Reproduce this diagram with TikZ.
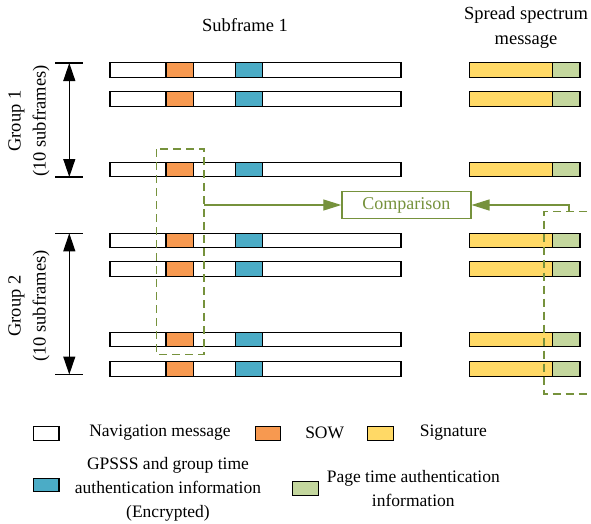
\documentclass[tikz,border=0pt]{standalone}
\usepackage{fontspec}
\setmainfont{Liberation Serif}
\usetikzlibrary{arrows.meta}
\definecolor{sowfill}{RGB}{247,153,80}
\definecolor{gpsfill}{RGB}{75,172,198}
\definecolor{sigfill}{RGB}{255,217,102}
\definecolor{pagefill}{RGB}{196,215,158}
\definecolor{olive}{RGB}{118,146,60}
\begin{document}
\begin{tikzpicture}[x=1pt,y=-1pt,
  seg/.style={draw=black,line width=1.1pt},
  lbl/.style={font=\fontsize{17.5}{24}\selectfont, align=center, inner sep=0pt},
  head/.style={font=\fontsize{18.5}{25}\selectfont, align=center, inner sep=0pt},
  span/.style={line width=1.1pt,
    {Triangle[length=18pt,width=12pt]}-{Triangle[length=18pt,width=12pt]}},
  tick/.style={line width=1.1pt},
  cmpline/.style={draw=olive, line width=1.2pt, -{Triangle[length=18pt,width=11pt]}},
  window/.style={draw=olive, line width=1.2pt, dash pattern=on 8pt off 5pt},
  key/.style={seg, minimum width=25.5pt, minimum height=13.5pt, inner sep=0pt}
]
\useasboundingbox (0,0) rectangle (591,523);

% column headings
\node[head] (hsub) at (245,25) {Subframe 1};
\node[head] (hspr) at (526,27.5) {Spread spectrum\\message};

% subframes: navigation message with SOW and GPSSS fields, plus spread spectrum message
\foreach \y in {70,99,169.5,240.5,269,339.5,369} {
  \draw[seg,fill=white]    (110,\y-7.2)   rectangle (401,\y+7.2);
  \draw[seg,fill=sowfill]  (166,\y-7.2)   rectangle (193.3,\y+7.2);
  \draw[seg,fill=gpsfill]  (235.3,\y-7.2) rectangle (262.7,\y+7.2);
  \draw[seg,fill=sigfill]  (469.3,\y-7.2) rectangle (552.3,\y+7.2);
  \draw[seg,fill=pagefill] (552.3,\y-7.2) rectangle (580,\y+7.2);
}

% group extents
\coordinate (g1top) at (69.3,63);
\coordinate (g1bot) at (69.3,177);
\coordinate (g2top) at (69.3,233.3);
\coordinate (g2bot) at (69.3,374.5);
\foreach \c in {g1top,g1bot,g2top,g2bot}
  \draw[tick] ([xshift=-14.3pt]\c) -- ([xshift=14pt]\c);
\draw[span] (g1top) -- (g1bot);
\draw[span] (g2top) -- (g2bot);
\node[head, rotate=90] (grp1) at (29,121) {Group 1\\(10 subframes)};
\node[head, rotate=90] (grp2) at (29,306) {Group 2\\(10 subframes)};

% comparison of the selected fields
\node[draw=olive, line width=1.2pt, minimum width=129pt, minimum height=27.5pt,
      inner sep=0pt, font=\fontsize{18}{24}\selectfont, text=olive]
      (cmp) at (406.4,205) {Comparison};
\draw[window] (156.7,149) rectangle (204,354.3);
\coordinate (w1) at (204,205);
\draw[cmpline] (w1) -- (cmp.west);
\draw[window] (600,211.7) -- (544,211.7) -- (544,394) -- (600,394);
\coordinate (w2) at (569,211.7);
\draw[cmpline] (w2) |- (cmp.east);

% legend
\node[key, fill=white]    (knav)  at (46.2,433.3) {};
\node[lbl] (tnav) at (160,433) {Navigation message};
\node[key, fill=sowfill]  (ksow)  at (268,433.3) {};
\node[lbl] (tsow) at (324.7,433) {SOW};
\node[key, fill=sigfill]  (ksig)  at (380.3,433.3) {};
\node[lbl] (tsig) at (453.3,433) {Signature};
\node[key, fill=gpsfill]  (kgps)  at (46.2,485) {};
\node[lbl] (tgps) at (168,489) {GPSSS and group time\\authentication information\\(Encrypted)};
\node[key, fill=pagefill] (kpage) at (305.3,488.3) {};
\node[lbl] (tpage) at (413.3,488.5) {Page time authentication\\information};
\end{tikzpicture}
\end{document}
